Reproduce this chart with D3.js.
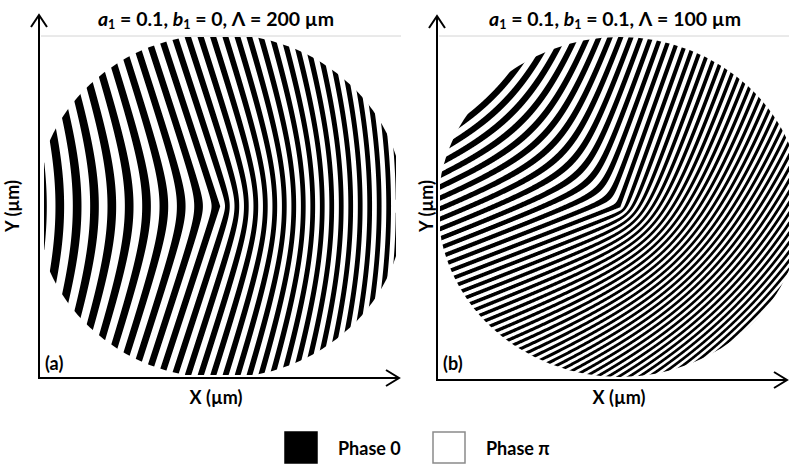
<!DOCTYPE html>
<html>
<head>
<meta charset="utf-8">
<script src="https://cdn.jsdelivr.net/npm/d3@7"></script>
<style>
  body { margin: 0; background: #fff; }
  text { font-family: Lato, "Open Sans", sans-serif; font-weight: 700; fill: #000; }
</style>
</head>
<body>
<svg id="fig" width="789" height="464"></svg>
<script>
// panel parameters (from the titles)
const panelTags = ["(a)", "(b)"];
const a1 = [0.1, 0.1];
const b1 = [0, 0.1];
const gratingPeriod = [200, 100];     // Λ, µm
const apertureRadius = 3000;          // µm

// fringe shape, rad/µm
const extraTiltX = [0, -0.0266];
const extraTiltY = [0, -0.0338];
const coneSlope = [0.0092, 0.0206];
const phaseOffset = [0, 0];

const legendLabels = ["Phase 0", "Phase π"];
const legendFills = ["#000", "#fff"];

// layout, pixels
const layout = [
  { ax: 39, ay: 378, top: 15, right: 399, cx: 220, cy: 206, rx: 184, ry: 172,
    clip: [44, 37, 396, 375], titleX: 216, xlabX: 216, ylabX: 13 },
  { ax: 437, ay: 380, top: 16, right: 787, cx: 620, cy: 207, rx: 182, ry: 170,
    clip: [440, 37, 789, 378], titleX: 615, xlabX: 619, ylabX: 427 }
];

const svg = d3.select("#fig");
const defs = svg.append("defs");

layout.forEach((L, p) => {
  const x = d3.scaleLinear().domain([-apertureRadius, apertureRadius]).range([L.cx - L.rx, L.cx + L.rx]);
  const y = d3.scaleLinear().domain([-apertureRadius, apertureRadius]).range([L.cy + L.ry, L.cy - L.ry]);

  // aperture
  defs.append("clipPath").attr("id", "ap" + p)
    .append("ellipse")
    .attr("cx", x(0)).attr("cy", y(0))
    .attr("rx", x(apertureRadius) - x(0)).attr("ry", y(0) - y(apertureRadius));

  // binary phase grating: black where the phase sits in [π, 2π)
  const [x0, y0, x1, y1] = L.clip;
  const step = 0.5;
  const nx = Math.ceil((x1 - x0) / step), ny = Math.ceil((y1 - y0) / step);
  const kx = 2 * Math.PI / gratingPeriod[p] + extraTiltX[p];
  const ky = extraTiltY[p];
  const values = new Float64Array(nx * ny);
  for (let j = 0; j < ny; j++) {
    const v = y.invert(y0 + j * step);
    for (let i = 0; i < nx; i++) {
      const u = x.invert(x0 + i * step);
      const phi = kx * u + ky * v + coneSlope[p] * Math.hypot(u, v) + phaseOffset[p];
      values[j * nx + i] = -Math.sin(phi);
    }
  }
  const zone = d3.contours().size([nx, ny]).thresholds([0])(values)[0];
  const proj = d3.geoIdentity().scale(step).translate([x0, y0]);

  svg.append("g").attr("clip-path", "url(#ap" + p + ")")
    .append("path")
    .attr("d", d3.geoPath(proj)(zone))
    .attr("fill", "#000");

  // frame line on top
  svg.append("line")
    .attr("x1", L.ax + 2).attr("x2", Math.min(L.right + 2, 789))
    .attr("y1", 36).attr("y2", 36)
    .attr("stroke", "#d4d4d4").attr("stroke-width", 1);

  // axes with open arrow heads
  const ax = svg.append("g").attr("fill", "none").attr("stroke", "#000").attr("stroke-width", 2);
  ax.append("path").attr("d", `M${L.ax},${L.ay} V${L.top}`);
  ax.append("path").attr("d", `M${L.ax - 8},${L.top + 12} L${L.ax},${L.top} L${L.ax + 8},${L.top + 12}`);
  ax.append("path").attr("d", `M${L.ax - 1},${L.ay} H${L.right}`);
  ax.append("path").attr("d", `M${L.right - 13},${L.ay - 8} L${L.right},${L.ay} L${L.right - 13},${L.ay + 8}`);

  // title
  const t = svg.append("text").attr("x", L.titleX).attr("y", 26)
    .attr("text-anchor", "middle").attr("font-size", 19.5);
  t.append("tspan").attr("font-style", "italic").text("a");
  t.append("tspan").attr("font-size", 12.5).attr("dy", 3).text("1");
  t.append("tspan").attr("dy", -3).text(" = " + a1[p] + ", ");
  t.append("tspan").attr("font-style", "italic").text("b");
  t.append("tspan").attr("font-size", 12.5).attr("dy", 3).text("1");
  t.append("tspan").attr("dy", -3).text(" = " + b1[p] + ", Λ = " + gratingPeriod[p] + " µm");

  // axis labels and tag
  svg.append("text").attr("x", L.xlabX).attr("y", 404)
    .attr("text-anchor", "middle").attr("font-size", 18).text("X (µm)");
  svg.append("text").attr("transform", `translate(${L.ylabX + 6},206) rotate(-90)`)
    .attr("text-anchor", "middle").attr("font-size", 18).text("Y (µm)");
  svg.append("text").attr("x", L.ax + 6).attr("y", 370)
    .attr("font-size", 18).text(panelTags[p]);
});

// legend
const legendX = [285, 433];
const lg = svg.append("g");
legendLabels.forEach((lab, i) => {
  lg.append("rect").attr("x", legendX[i]).attr("y", 432).attr("width", 32).attr("height", 31)
    .attr("fill", legendFills[i]).attr("stroke", i ? "#8a8a8a" : "#000").attr("stroke-width", 1.5);
  lg.append("text").attr("x", legendX[i] + 53).attr("y", 455).attr("font-size", 18).text(lab);
});
</script>
</body>
</html>
